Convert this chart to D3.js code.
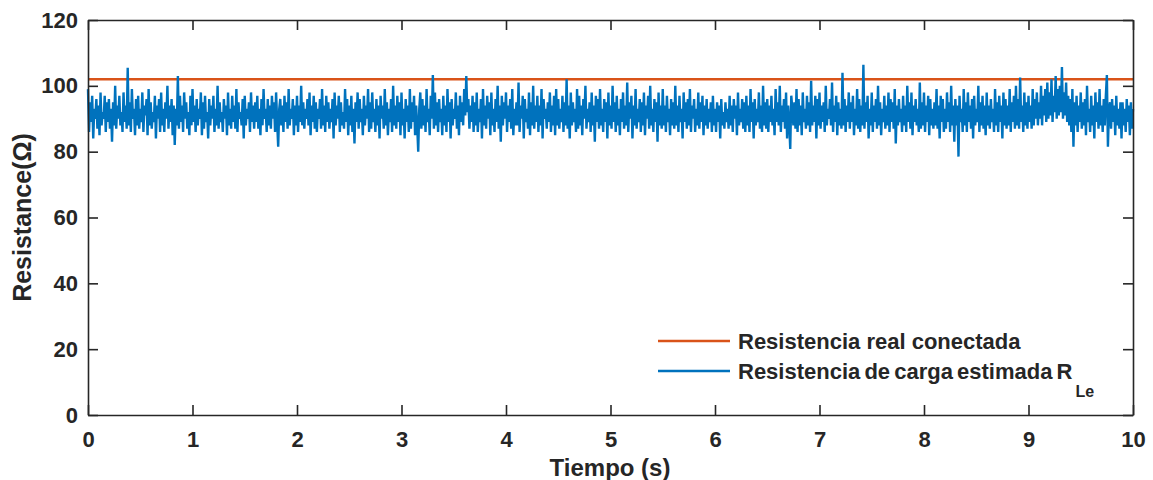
<!DOCTYPE html>
<html>
<head>
<meta charset="utf-8">
<script src="https://cdn.jsdelivr.net/npm/d3@7"></script>
<style>
  body { margin: 0; background: #fff; }
  svg text { font-family: "Liberation Sans", Arial, Helvetica, sans-serif; font-weight: bold; fill: #262626; }
</style>
</head>
<body>
<svg id="chart" width="1153" height="480"></svg>
<script>
// Sampling period of the estimator output (seconds)
const sampleStep = 0.01;

// Estimated load resistance R_Le (ohms), one value per sample, 10 samples per row
const estimatedRL = [
  99, 86, 95, 89, 97, 84, 93, 90, 96, 87,
  94, 85, 98, 88, 92, 90, 97, 86, 95, 89,
  96, 87, 93, 83, 95, 88, 100, 87, 94, 90,
  97, 88, 92, 86, 98, 89, 94, 87, 105.5, 88,
  95, 86, 99, 90, 93, 85, 96, 88, 97, 87,
  93, 89, 98, 86, 94, 91, 96, 85, 99, 88,
  95, 87, 92, 89, 97, 84, 94, 90, 96, 86,
  98, 88, 93, 86, 95, 90, 100, 87, 94, 89,
  96, 85, 94, 82, 93, 88, 103, 87, 97, 89,
  94, 86, 98, 90, 95, 87, 92, 85, 97, 88,
  99, 89, 94, 86, 96, 88, 93, 90, 98, 85,
  95, 87, 97, 89, 92, 84, 96, 88, 94, 90,
  97, 86, 93, 88, 100, 87, 95, 89, 92, 86,
  96, 90, 94, 85, 98, 88, 93, 87, 97, 89,
  94, 87, 99, 86, 95, 90, 92, 88, 96, 84,
  97, 88, 93, 90, 95, 86, 98, 89, 94, 87,
  95, 89, 97, 87, 93, 85, 96, 88, 99, 90,
  93, 86, 96, 88, 94, 87, 97, 90, 95, 86,
  98, 89, 81.5, 93, 96, 88, 94, 86, 97, 89,
  95, 87, 99, 88, 93, 90, 96, 85, 94, 88,
  97, 86, 94, 89, 100, 88, 95, 87, 93, 90,
  96, 88, 98, 85, 94, 89, 97, 87, 95, 86,
  93, 90, 96, 87, 99, 88, 94, 86, 97, 89,
  95, 87, 93, 89, 96, 84, 98, 88, 94, 90,
  97, 86, 95, 88, 92, 87, 99, 89, 96, 85,
  94, 88, 97, 86, 93, 82.5, 95, 89, 98, 87,
  96, 89, 93, 85, 97, 88, 94, 90, 99, 86,
  95, 87, 98, 89, 93, 86, 96, 88, 94, 84,
  97, 90, 94, 87, 99, 88, 95, 85, 93, 89,
  96, 86, 100, 88, 94, 87, 97, 89, 95, 85,
  98, 88, 93, 84, 96, 89, 94, 86, 99, 87,
  95, 89, 97, 85, 94, 88, 80, 93, 98, 87,
  96, 88, 94, 86, 99, 89, 93, 85, 97, 90,
  103.3, 87, 98, 88, 95, 86, 96, 89, 93, 85,
  97, 88, 94, 86, 99, 89, 95, 84, 96, 88,
  93, 90, 98, 87, 94, 85, 97, 89, 95, 88,
  99, 91, 103, 92, 96, 87, 94, 89, 97, 86,
  95, 88, 98, 86, 93, 89, 96, 84, 99, 88,
  94, 87, 97, 90, 95, 85, 98, 88, 93, 86,
  96, 89, 100, 87, 94, 83, 97, 88, 95, 90,
  98, 86, 94, 89, 96, 87, 99, 85, 93, 88,
  95, 88, 101, 86, 94, 90, 97, 84, 96, 89,
  93, 87, 98, 85, 95, 88, 100, 87, 94, 89,
  97, 86, 94, 88, 99, 84, 96, 90, 93, 87,
  95, 89, 98, 86, 94, 88, 97, 85, 99, 88,
  96, 87, 93, 89, 97, 86, 95, 88, 102, 87,
  94, 84, 98, 88, 95, 89, 93, 86, 99, 87,
  97, 88, 94, 85, 96, 90, 100, 87, 93, 89,
  95, 86, 98, 88, 94, 83, 97, 89, 96, 87,
  99, 88, 93, 86, 96, 89, 95, 84, 98, 88,
  94, 87, 100, 89, 95, 86, 97, 88, 93, 85,
  96, 89, 98, 87, 94, 88, 101, 86, 95, 90,
  97, 84, 94, 88, 99, 87, 93, 89, 96, 86,
  95, 88, 98, 85, 94, 90, 97, 87, 100, 88,
  93, 86, 96, 89, 95, 83, 98, 88, 94, 87,
  99, 88, 94, 86, 97, 89, 93, 85, 96, 88,
  95, 87, 100, 88, 94, 86, 97, 89, 93, 84,
  98, 89, 95, 87, 96, 88, 99, 86, 94, 90,
  96, 86, 93, 88, 98, 87, 95, 89, 97, 85,
  94, 88, 96, 87, 93, 89, 95, 86, 97, 88,
  93, 86, 95, 89, 94, 84, 96, 88, 92, 87,
  95, 89, 93, 87, 97, 88, 94, 86, 96, 90,
  94, 85, 98, 88, 93, 89, 96, 87, 95, 86,
  97, 88, 94, 86, 99, 89, 95, 84, 96, 88,
  93, 89, 98, 87, 94, 86, 100, 88, 95, 87,
  96, 86, 94, 89, 97, 88, 93, 85, 99, 89,
  95, 88, 100, 86, 94, 89, 96, 87, 98, 84,
  94, 89, 80.8, 97, 93, 88, 95, 87, 99, 86,
  96, 88, 94, 85, 98, 89, 93, 87, 97, 88,
  95, 86, 101.5, 88, 94, 89, 97, 84, 96, 88,
  98, 87, 94, 89, 95, 86, 100, 88, 93, 90,
  96, 88, 101, 86, 94, 89, 97, 85, 95, 88,
  93, 87, 104, 88, 96, 86, 94, 89, 98, 87,
  95, 89, 97, 85, 93, 88, 99, 87, 96, 86,
  94, 88, 106.4, 87, 95, 89, 97, 84, 93, 88,
  98, 86, 94, 89, 96, 87, 100, 88, 95, 85,
  93, 89, 97, 87, 94, 88, 98, 86, 96, 89,
  95, 87, 99, 82.5, 94, 88, 96, 89, 93, 86,
  97, 88, 94, 86, 100, 89, 95, 87, 98, 85,
  94, 89, 96, 88, 93, 86, 101, 87, 95, 88,
  98, 86, 94, 89, 97, 85, 96, 88, 93, 87,
  95, 88, 99, 87, 94, 84, 97, 89, 96, 86,
  93, 87, 98, 89, 95, 86, 100, 88, 94, 83,
  96, 88, 94, 78.5, 97, 89, 93, 86, 99, 88,
  95, 86, 98, 89, 94, 87, 96, 84, 97, 88,
  93, 89, 100, 86, 95, 88, 97, 87, 94, 85,
  98, 88, 94, 87, 96, 89, 93, 86, 99, 88,
  95, 86, 97, 89, 94, 84, 98, 88, 96, 87,
  94, 88, 99, 86, 95, 89, 97, 87, 100, 88,
  96, 87, 102.5, 89, 94, 86, 98, 88, 95, 87,
  97, 89, 94, 87, 99, 88, 96, 90, 98, 88,
  95, 90, 100, 88, 97, 91, 99, 89, 101, 90,
  98, 91, 102, 89, 97, 92, 103, 90, 99, 91,
  100, 92, 105.7, 90, 98, 91, 101, 89, 97, 88,
  96, 86, 99, 81.5, 95, 88, 97, 86, 94, 89,
  98, 87, 95, 88, 96, 85, 100, 89, 93, 86,
  97, 88, 94, 84, 98, 89, 95, 87, 99, 88,
  94, 86, 96, 88, 97, 103.3, 81.5, 93, 95, 87,
  96, 89, 94, 85, 97, 88, 93, 87, 95, 84,
  95, 88, 93, 86, 96, 89, 94, 85, 95, 87,
  93
];

// Actual connected resistance (ohms) over the whole record
const realResistance = [102, 102];
const realTimes = [0, 10];

const xTicks = [0, 1, 2, 3, 4, 5, 6, 7, 8, 9, 10];
const yTicks = [0, 20, 40, 60, 80, 100, 120];

const legendLabels = ["Resistencia real conectada", "Resistencia de carga estimada R"];
const legendSub = "Le";
const xTitle = "Tiempo (s)";
const yTitle = "Resistance(\u03A9)";

const colorReal = "#D95319";
const colorEst = "#0072BD";
const axisColor = "#262626";

const plot = { left: 88, right: 1133, top: 20, bottom: 415 };

const svg = d3.select("#chart");

const x = d3.scaleLinear().domain([0, 10]).range([plot.left, plot.right]);
const y = d3.scaleLinear().domain([0, 120]).range([plot.bottom, plot.top]);

// Real resistance first, estimate drawn over it
const realLine = d3.line().x((d, i) => x(realTimes[i])).y(d => y(d));
svg.append("path")
  .datum(realResistance)
  .attr("d", realLine)
  .attr("fill", "none")
  .attr("stroke", colorReal)
  .attr("stroke-width", 2.6);

const estLine = d3.line().x((d, i) => x(i * sampleStep)).y(d => y(d));
svg.append("path")
  .datum(estimatedRL)
  .attr("d", estLine)
  .attr("fill", "none")
  .attr("stroke", colorEst)
  .attr("stroke-width", 2.4)
  .attr("stroke-linejoin", "bevel");

// Boxed axes with inward ticks
function styleAxis(g, showLabels) {
  g.select(".domain").attr("stroke", axisColor).attr("stroke-width", 1.6);
  g.selectAll(".tick line").attr("stroke", axisColor).attr("stroke-width", 1.6);
  g.selectAll(".tick text")
    .attr("fill", axisColor)
    .style("font-size", "22px")
    .style("font-weight", "bold")
    .style("font-family", "\"Liberation Sans\", Arial, sans-serif");
  if (!showLabels) g.selectAll(".tick text").remove();
}

svg.append("g")
  .attr("transform", `translate(0,${plot.bottom})`)
  .call(d3.axisBottom(x).tickValues(xTicks).tickSize(-10).tickSizeOuter(0).tickPadding(16).tickFormat(d3.format("d")))
  .call(g => styleAxis(g, true));

svg.append("g")
  .attr("transform", `translate(0,${plot.top})`)
  .call(d3.axisTop(x).tickValues(xTicks).tickSize(-10).tickSizeOuter(0))
  .call(g => styleAxis(g, false));

svg.append("g")
  .attr("transform", `translate(${plot.left},0)`)
  .call(d3.axisLeft(y).tickValues(yTicks).tickSize(-10).tickSizeOuter(0).tickPadding(10).tickFormat(d3.format("d")))
  .call(g => styleAxis(g, true));

svg.append("g")
  .attr("transform", `translate(${plot.right},0)`)
  .call(d3.axisRight(y).tickValues(yTicks).tickSize(-10).tickSizeOuter(0))
  .call(g => styleAxis(g, false));

// Axis titles
svg.append("text")
  .attr("x", 610)
  .attr("y", 476)
  .attr("text-anchor", "middle")
  .style("font-size", "24px")
  .text(xTitle);

svg.append("text")
  .attr("transform", `translate(31,${(plot.top + plot.bottom) / 2}) rotate(-90)`)
  .attr("text-anchor", "middle")
  .style("font-size", "25px")
  .text(yTitle);

// Legend (no frame)
const legend = svg.append("g").attr("transform", "translate(658,341)");
const legendColors = [colorReal, colorEst];
legendLabels.forEach((label, i) => {
  const row = legend.append("g").attr("transform", `translate(0,${i * 30})`);
  row.append("line")
    .attr("x1", 0).attr("x2", 72)
    .attr("y1", 0).attr("y2", 0)
    .attr("stroke", legendColors[i])
    .attr("stroke-width", 2.4);
  const t = row.append("text")
    .attr("x", 80)
    .attr("y", 8)
    .style("font-size", "22px")
    .text(label);
  if (i === 1) {
    t.style("word-spacing", "-2px");
    t.append("tspan")
      .attr("dx", 3)
      .attr("dy", 18)
      .style("font-size", "16px")
      .style("word-spacing", "0px")
      .text(legendSub);
  }
});
</script>
</body>
</html>
